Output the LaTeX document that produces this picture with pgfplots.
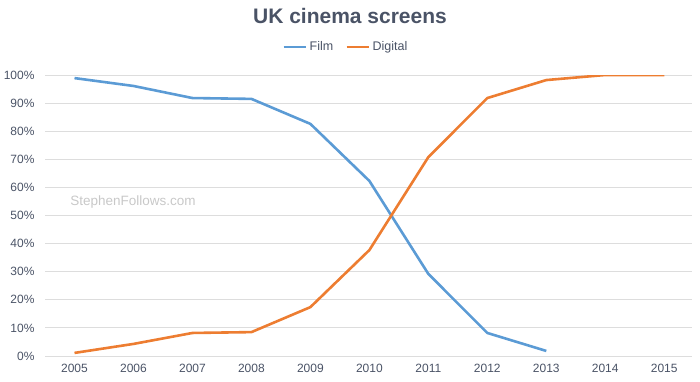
\documentclass[border=0pt]{standalone}
\usepackage{pgfplots}
\pgfplotsset{compat=1.18}
\usepackage{fontspec}
\setmainfont{Liberation Sans}
\definecolor{filmc}{HTML}{5B9BD5}
\definecolor{digc}{HTML}{ED7D31}
\definecolor{txt}{HTML}{4A5366}
\definecolor{gridc}{HTML}{DDDDDD}
\definecolor{wm}{HTML}{C8C8C8}
\begin{document}
\begin{tikzpicture}[x=1pt,y=1pt]
\useasboundingbox (0,0) rectangle (700,381);
\node[font=\fontsize{21}{24}\selectfont\bfseries, text=txt] at (350,365) {UK cinema screens};
\begin{axis}[
  at={(45pt,25pt)}, anchor=south west,
  scale only axis, width=647pt, height=281pt,
  xmin=2004.5, xmax=2015.47, ymin=0, ymax=100,
  axis line style={draw=none},
  ymajorgrids, grid style={gridc, line width=0.9pt},
  xtick={2005,...,2015},
  xticklabel style={/pgf/number format/1000 sep={}},
  ytick={0,10,...,100},
  yticklabel={\pgfmathprintnumber{\tick}\%},
  /pgf/number format/assume math mode=true,
  tick label style={font=\fontsize{12}{14}\selectfont, text=txt},
  yticklabel style={xshift=-7pt},
  xticklabel style={yshift=-5pt},
  major tick length=0pt,
  tick style={draw=none},
  legend columns=2,
  legend style={at={(0.465,1.1)}, anchor=center, draw=none, fill=none,
    font=\fontsize{12.5}{14}\selectfont, text=txt,
    /tikz/every even column/.append style={column sep=10pt}},
  legend image code/.code={\draw[#1, line width=2.6pt] (0,0) -- (0.8cm,0);},
  every axis plot/.append style={line width=2.6pt, line join=round},
]
\node[font=\fontsize{13.5}{15}\selectfont, text=wm, anchor=west] at (axis cs:2004.87,54.8) {StephenFollows.com};
\addplot[filmc, mark=none] coordinates {
(2005,98.9) (2006,96.1) (2007,91.8) (2008,91.5) (2009,82.6) (2010,62.3) (2011,29.2) (2012,8.2) (2013,1.8)};
\addlegendentry{Film}
\addplot[digc, mark=none] coordinates {
(2005,1.1) (2006,4.3) (2007,8.2) (2008,8.5) (2009,17.4) (2010,37.7) (2011,70.8) (2012,91.8) (2013,98.2) (2014,100) (2015,100)};
\addlegendentry{Digital}
\end{axis}
\end{tikzpicture}
\end{document}
